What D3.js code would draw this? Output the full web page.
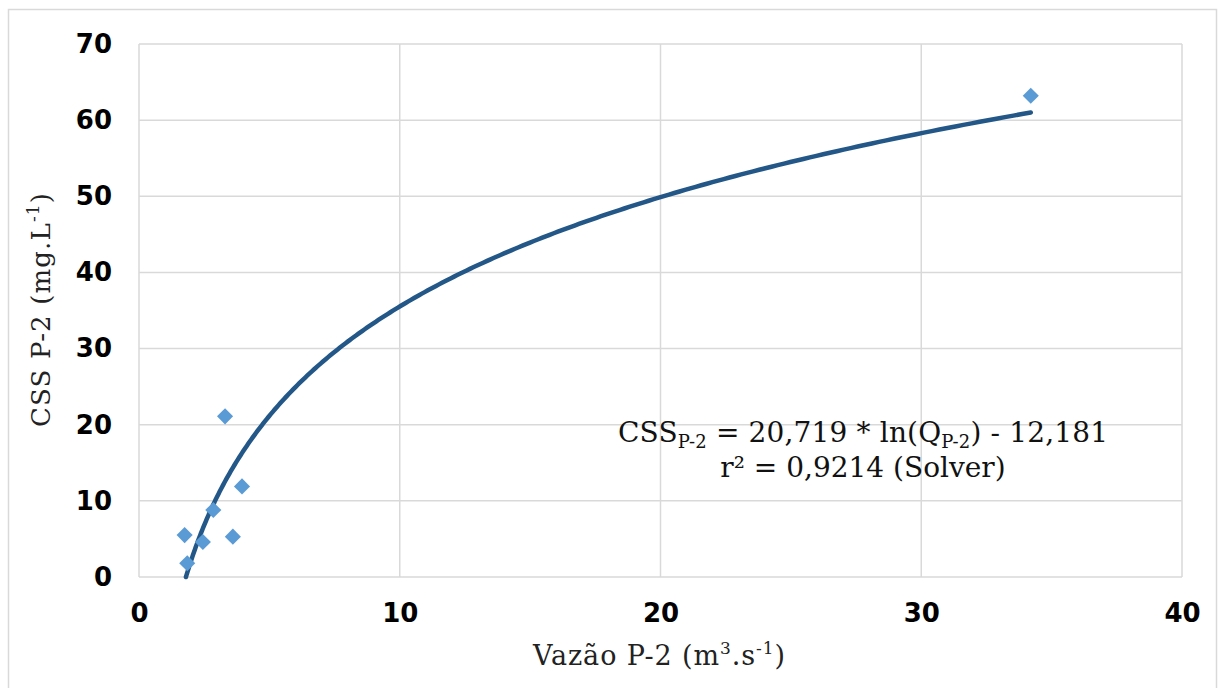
<!DOCTYPE html>
<html>
<head>
<meta charset="utf-8">
<script src="https://cdn.jsdelivr.net/npm/d3@7"></script>
<style>
  html, body { margin: 0; padding: 0; background: #fff; }
  svg { display: block; }
</style>
</head>
<body>
<svg id="chart" width="1218" height="688"></svg>
<script>
// Observed flow (m³/s) and suspended sediment concentration (mg/L) at P-2
const vazao = [1.75, 1.85, 2.45, 2.85, 3.3, 3.6, 3.95, 34.2];
const css   = [5.5, 1.8, 4.6, 8.8, 21.1, 5.3, 11.9, 63.2];

// Tick labels
const xTicks = [0, 10, 20, 30, 40];
const yTicks = [0, 10, 20, 30, 40, 50, 60, 70];

// Logarithmic fit: CSS = a * ln(Q) + b
const fitA = 20.719;
const fitB = -12.181;

const svg = d3.select("#chart");
const W = 1218, H = 688;
const m = { left: 139, right: 1182, top: 44, bottom: 577 };

// Chart border
svg.append("rect")
  .attr("x", 8.5).attr("y", 9.5)
  .attr("width", W - 10).attr("height", H)
  .attr("fill", "#fff").attr("stroke", "#d9d9d9").attr("stroke-width", 1.5);

const x = d3.scaleLinear().domain([0, 40]).range([m.left, m.right]);
const y = d3.scaleLinear().domain([0, 70]).range([m.bottom, m.top]);

// Gridlines
const grid = svg.append("g").attr("stroke", "#d9d9d9").attr("stroke-width", 1.5);
grid.selectAll(".gx").data(xTicks).enter().append("line")
  .attr("x1", d => x(d)).attr("x2", d => x(d))
  .attr("y1", m.top).attr("y2", m.bottom);
grid.selectAll(".gy").data(yTicks).enter().append("line")
  .attr("x1", m.left).attr("x2", m.right)
  .attr("y1", d => y(d)).attr("y2", d => y(d));

// Axes (labels only; lines come from the grid)
const xAxis = svg.append("g")
  .attr("transform", `translate(0,${m.bottom})`)
  .call(d3.axisBottom(x).tickValues(xTicks).tickSize(0).tickPadding(27));
const yAxis = svg.append("g")
  .attr("transform", `translate(${m.left},0)`)
  .call(d3.axisLeft(y).tickValues(yTicks).tickSize(0).tickPadding(27));
[xAxis, yAxis].forEach(a => {
  a.select(".domain").remove();
  a.selectAll("text")
    .attr("font-family", "'DejaVu Sans', Verdana, sans-serif")
    .attr("font-weight", "bold")
    .attr("font-size", 26)
    .attr("fill", "#000");
});

// Fitted curve
const q0 = Math.exp(-fitB / fitA);
const qMax = d3.max(vazao);
const curve = d3.range(0, 301).map(i => {
  const q = q0 * Math.pow(qMax / q0, i / 300);
  return [q, fitA * Math.log(q) + fitB];
});
svg.append("path")
  .datum(curve)
  .attr("fill", "none")
  .attr("stroke", "#235787")
  .attr("stroke-width", 4.5)
  .attr("stroke-linecap", "round")
  .attr("d", d3.line().x(d => x(d[0])).y(d => y(d[1])));

// Observations
const pts = vazao.map((q, i) => ({ q, c: css[i] }));
svg.append("g").selectAll("path").data(pts).enter().append("path")
  .attr("d", d3.symbol().type(d3.symbolDiamond2).size(165))
  .attr("transform", d => `translate(${x(d.q)},${y(d.c)})`)
  .attr("fill", "#5b9bd5");

// Axis titles
const serif = "'DejaVu Serif', 'Liberation Serif', serif";
const xt = svg.append("text")
  .attr("x", 659).attr("y", 665)
  .attr("text-anchor", "middle")
  .attr("font-family", serif).attr("font-size", 27).attr("fill", "#222")
  .attr("textLength", 252).attr("lengthAdjust", "spacing");
xt.append("tspan").text("Vazão P-2 (m");
xt.append("tspan").attr("dy", -11).attr("font-size", 17).text("3");
xt.append("tspan").attr("dy", 11).text(".s");
xt.append("tspan").attr("dy", -11).attr("font-size", 17).text("-1");
xt.append("tspan").attr("dy", 11).text(")");

const yt = svg.append("text")
  .attr("transform", "translate(50,310) rotate(-90)")
  .attr("text-anchor", "middle")
  .attr("font-family", serif).attr("font-size", 26).attr("fill", "#222")
  .attr("textLength", 234).attr("lengthAdjust", "spacing");
yt.append("tspan").text("CSS P-2 (mg.L");
yt.append("tspan").attr("dy", -11).attr("font-size", 17).text("-1");
yt.append("tspan").attr("dy", 11).text(")");

// Fit equation
const fmt = v => String(v).replace(".", ",");
const eq = svg.append("text")
  .attr("x", 863).attr("y", 442)
  .attr("text-anchor", "middle")
  .attr("font-family", serif).attr("font-size", 28).attr("fill", "#111")
  .attr("textLength", 490).attr("lengthAdjust", "spacing");
eq.append("tspan").text("CSS");
eq.append("tspan").attr("dy", 6).attr("font-size", 18).text("P-2");
eq.append("tspan").attr("dy", -6).text(` = ${fmt(fitA)} * ln(Q`);
eq.append("tspan").attr("dy", 6).attr("font-size", 18).text("P-2");
eq.append("tspan").attr("dy", -6).text(`) - ${fmt(-fitB)}`);

svg.append("text")
  .attr("x", 863).attr("y", 477)
  .attr("text-anchor", "middle")
  .attr("font-family", serif).attr("font-size", 28).attr("fill", "#111")
  .text("r² = 0,9214 (Solver)");
</script>
</body>
</html>
